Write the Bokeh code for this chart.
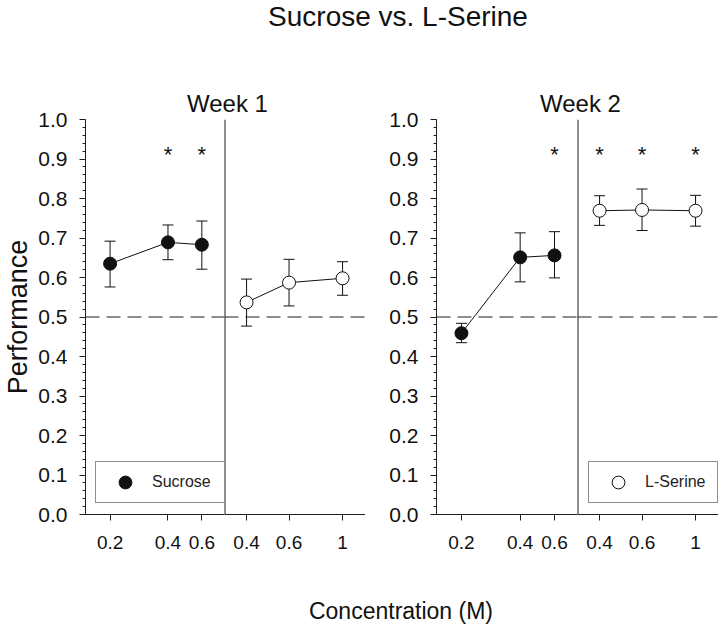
from bokeh.plotting import figure
from bokeh.layouts import row, column
from bokeh.models import (ColumnDataSource, Whisker, TeeHead, Span, Legend, LegendItem,
                          FixedTicker, SingleIntervalTicker, Range1d, Label,
                          PrintfTickFormatter)
from bokeh.core.properties import value
from bokeh.embed import file_html
from bokeh.resources import INLINE

# ---------------- data ----------------
title_text = "Sucrose vs. L-Serine"
week_labels = ["Week 1", "Week 2"]
x_label = "Concentration (M)"
y_label = "Performance"
legend_labels = ["Sucrose", "L-Serine"]

sucrose_conc = [0.2, 0.4, 0.6]
serine_conc = [0.4, 0.6, 1.0]
sucrose_tick_labels = ["0.2", "0.4", "0.6"]
serine_tick_labels = ["0.4", "0.6", "1"]

w1_sucrose_mean = [0.635, 0.689, 0.683]
w1_sucrose_low = [0.576, 0.645, 0.621]
w1_sucrose_high = [0.692, 0.733, 0.743]
w1_serine_mean = [0.537, 0.587, 0.598]
w1_serine_low = [0.477, 0.528, 0.555]
w1_serine_high = [0.596, 0.646, 0.640]
w1_sucrose_sig = [False, True, True]
w1_serine_sig = [False, False, False]

w2_sucrose_mean = [0.459, 0.651, 0.656]
w2_sucrose_low = [0.435, 0.589, 0.599]
w2_sucrose_high = [0.484, 0.713, 0.716]
w2_serine_mean = [0.769, 0.771, 0.769]
w2_serine_low = [0.732, 0.719, 0.730]
w2_serine_high = [0.807, 0.824, 0.808]
w2_sucrose_sig = [False, False, True]
w2_serine_sig = [True, True, True]

chance_level = 0.5
star_level = 0.912

sucrose_xrange = (0.149, 0.787)
serine_xrange = (0.324, 1.245)
y_range = (0.0, 1.0)

# ---------------- layout constants ----------------
FONT = "Liberation Sans"
INK = "#111111"
AXC = "#1e1e1e"
FW = 141          # frame width of each sub-plot
FH = 395          # frame height
LB_A = 83         # left border of week-1 sucrose plot
LB_C = 71         # left border of week-2 sucrose plot
TB = 15
BB = 46
TOP_H = 117
OVERLAP = 13      # plot row is pulled up under the (transparent) header strip
BOT_H = 64
ROW_H = TB + FH + BB
PAGE_W = LB_A + FW + FW + LB_C + FW + FW


def make_fig(width, left_border, xr, ticks, tick_labels, show_y, ylab=None):
    p = figure(width=width, height=ROW_H, x_axis_type="log",
               x_range=Range1d(*xr), y_range=Range1d(*y_range),
               y_axis_location="left" if show_y else None,
               output_backend="svg", toolbar_location=None,
               min_border_left=left_border, min_border_right=0,
               min_border_top=TB, min_border_bottom=BB,
               outline_line_color=None, background_fill_color="white",
               border_fill_color="white", border_fill_alpha=0)
    p.grid.visible = False
    xa = p.xaxis[0]
    xa.ticker = FixedTicker(ticks=ticks)
    xa.major_label_overrides = {t: l for t, l in zip(ticks, tick_labels)}
    xa.major_tick_out = 6
    xa.major_tick_in = 0
    xa.minor_tick_out = 0
    xa.minor_tick_in = 0
    xa.axis_line_color = AXC
    xa.major_tick_line_color = AXC
    xa.major_label_standoff = 15
    xa.major_label_text_font = FONT
    xa.major_label_text_font_size = "19px"
    xa.major_label_text_color = INK
    if show_y:
        ya = p.yaxis[0]
        ya.ticker = SingleIntervalTicker(interval=0.1, num_minor_ticks=5)
        ya.formatter = PrintfTickFormatter(format="%.1f")
        ya.major_tick_out = 6
        ya.major_tick_in = 0
        ya.minor_tick_out = 3
        ya.minor_tick_in = 0
        ya.axis_line_color = AXC
        ya.major_tick_line_color = AXC
        ya.minor_tick_line_color = AXC
        ya.major_label_standoff = 12
        ya.major_label_text_font = FONT
        ya.major_label_text_font_size = "21px"
        ya.major_label_text_color = INK
        if ylab:
            ya.axis_label = ylab
            ya.axis_label_text_font = FONT
            ya.axis_label_text_font_size = "27px"
            ya.axis_label_text_font_style = "normal"
            ya.axis_label_text_color = INK
            ya.axis_label_standoff = 2
    p.add_layout(Span(location=chance_level, dimension="width", line_dash="14 7",
                      line_color=AXC, line_width=1))
    return p


def add_series(p, conc, mean, low, high, sig, filled):
    src = ColumnDataSource(dict(x=conc, y=mean, lower=low, upper=high))
    p.add_layout(Whisker(base="x", lower="lower", upper="upper", source=src,
                         level="underlay", line_color=INK, line_width=1,
                         upper_head=TeeHead(size=11, line_color=INK, line_width=1),
                         lower_head=TeeHead(size=11, line_color=INK, line_width=1)))
    p.line("x", "y", source=src, line_color=INK, line_width=1)
    r = p.scatter("x", "y", source=src, size=13, marker="circle",
                  fill_color=INK if filled else "white", line_color=INK, line_width=1)
    sx = [c for c, s in zip(conc, sig) if s]
    if sx:
        p.text(x=sx, y=[star_level] * len(sx), text=["*"] * len(sx),
               text_align="center", text_baseline="middle",
               text_font=value(FONT), text_font_size="22px", text_color=INK)
    return r


def add_legend(p, label, r, xoff):
    lg = Legend(items=[LegendItem(label=label, renderers=[r])],
                location=(xoff, 11), glyph_width=50, glyph_height=32,
                label_height=32, label_width=68, label_standoff=2, padding=4,
                spacing=0, margin=0, border_line_color=AXC, border_line_width=1,
                background_fill_color="white", background_fill_alpha=1.0,
                label_text_font=FONT, label_text_font_size="16px",
                label_text_color="#222222")
    p.add_layout(lg)


def add_divider(p, xr):
    p.add_layout(Span(location=xr[0], dimension="height", line_color=AXC, line_width=2))


# Week 1
pA = make_fig(LB_A + FW, LB_A, sucrose_xrange, sucrose_conc, sucrose_tick_labels, True, y_label)
rA = add_series(pA, sucrose_conc, w1_sucrose_mean, w1_sucrose_low, w1_sucrose_high,
                w1_sucrose_sig, True)
add_legend(pA, legend_labels[0], rA, 10)

pB = make_fig(FW, 0, serine_xrange, serine_conc, serine_tick_labels, False)
add_series(pB, serine_conc, w1_serine_mean, w1_serine_low, w1_serine_high,
           w1_serine_sig, False)
add_divider(pB, serine_xrange)

# Week 2
pC = make_fig(LB_C + FW, LB_C, sucrose_xrange, sucrose_conc, sucrose_tick_labels, True)
add_series(pC, sucrose_conc, w2_sucrose_mean, w2_sucrose_low, w2_sucrose_high,
           w2_sucrose_sig, True)

pD = make_fig(FW, 0, serine_xrange, serine_conc, serine_tick_labels, False)
rD = add_series(pD, serine_conc, w2_serine_mean, w2_serine_low, w2_serine_high,
                w2_serine_sig, False)
add_divider(pD, serine_xrange)
add_legend(pD, legend_labels[1], rD, 11)


def blank_fig(h):
    f = figure(width=PAGE_W, height=h, x_range=Range1d(0, PAGE_W), y_range=Range1d(0, h),
               x_axis_location=None, y_axis_location=None, output_backend="svg",
               toolbar_location=None, min_border=0, outline_line_color=None,
               background_fill_color="white", border_fill_color="white")
    f.grid.visible = False
    return f


center_x = (LB_A + PAGE_W) / 2
top = blank_fig(TOP_H)
top.add_layout(Label(x=center_x - 3, y=TOP_H - 16, text=title_text, text_align="center",
                     text_baseline="middle", text_font=FONT, text_font_size="28px",
                     text_color=INK))
div1 = LB_A + FW
div2 = LB_A + 2 * FW + LB_C + FW
for xpos, wl in zip([div1, div2], week_labels):
    top.add_layout(Label(x=xpos + 3, y=TOP_H - 103, text=wl, text_align="center",
                         text_baseline="middle", text_font=FONT,
                         text_font_size="24px", text_color=INK))

bottom = blank_fig(BOT_H)
bottom.add_layout(Label(x=center_x, y=14, text=x_label, text_align="center",
                        text_baseline="middle", text_font=FONT, text_font_size="23px",
                        text_color=INK))

plots = row(pA, pB, pC, pD, margin=(-OVERLAP, 0, 0, 0))
layout = column(top, plots, bottom)
open("out.html", "w").write(file_html(layout, INLINE))
